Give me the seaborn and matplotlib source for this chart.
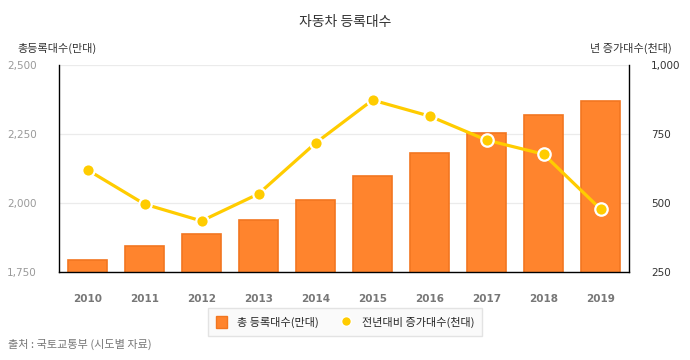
import numpy as np
import pandas as pd
import matplotlib
matplotlib.use("Agg")
import matplotlib.pyplot as plt
import seaborn as sns
from matplotlib.lines import Line2D
from matplotlib.patches import Patch

# data
years = ["2010", "2011", "2012", "2013", "2014", "2015", "2016", "2017", "2018", "2019"]
total_reg = [1794, 1844, 1887, 1940, 2012, 2099, 2180, 2253, 2320, 2368]   # 만대
yearly_inc = [620, 496, 435, 533, 717, 873, 815, 728, 677, 478]           # 천대
left_ticks = [1750, 2000, 2250, 2500]
right_ticks = [250, 500, 750, 1000]

sns.set_theme(style="white")
plt.rcParams["font.family"] = ["Noto Sans CJK KR", "DejaVu Sans"]

bar_col = "#FF842D"
bar_edge = "#F27620"
line_col = "#FFCC00"

df = pd.DataFrame({"year": years, "total": total_reg, "inc": yearly_inc})
df["pos"] = np.arange(len(df))

fig = plt.figure(figsize=(6.9, 3.6), dpi=100)
ax = fig.add_axes([59 / 690, 1 - 272 / 360, 570 / 690, 207 / 360])

sns.barplot(data=df, x="year", y="total", color=bar_col, edgecolor=bar_edge,
            linewidth=1.2, width=0.67, saturation=1, ax=ax, zorder=2)
ax.set_ylim(1750, 2500)
ax.set_yticks(left_ticks)
ax.set_yticklabels([f"{v:,}" for v in left_ticks], fontsize=7.5, color="#999999",
                   family="DejaVu Sans")
ax.set_xlim(-0.5, 9.5)
ax.set_xlabel("")
ax.set_ylabel("")
ax.grid(axis="y", color="#EBEBEB", linewidth=0.9, zorder=0)
ax.set_axisbelow(True)
for lab in ax.get_xticklabels():
    lab.set_fontsize(7.5)
    lab.set_fontweight("bold")
    lab.set_color("#777777")
    lab.set_family("DejaVu Sans")
ax.tick_params(axis="x", length=0, pad=16)
ax.tick_params(axis="y", length=0, pad=16)
for side in ["left", "bottom"]:
    ax.spines[side].set_color("#000000")
    ax.spines[side].set_linewidth(1.0)
ax.spines["top"].set_visible(False)
ax.spines["right"].set_visible(False)

# yearly increase on the right axis
ax2 = ax.twinx()
sns.lineplot(data=df, x="pos", y="inc", color=line_col, linewidth=2.3, ax=ax2)
sns.scatterplot(data=df, x="pos", y="inc", color=line_col, s=80, edgecolor="white",
                linewidth=1.6, ax=ax2, zorder=5)
ax2.set_ylim(250, 1000)
ax2.set_yticks(right_ticks)
ax2.set_yticklabels([f"{v:,}" for v in right_ticks], fontsize=7.5, color="#333333",
                    family="DejaVu Sans")
ax2.tick_params(axis="y", length=0, pad=16)
ax2.set_xlabel("")
ax2.set_ylabel("")
ax2.set_xlim(-0.5, 9.5)
ax2.grid(False)
ax2.spines["right"].set_color("#000000")
ax2.spines["right"].set_linewidth(1.0)
for side in ["top", "left", "bottom"]:
    ax2.spines[side].set_visible(False)

fig.text(0.5, 1 - 22 / 360, "자동차 등록대수", ha="center", va="center",
         fontsize=10, color="#333333")
fig.text(17 / 690, 1 - 48 / 360, "총등록대수(만대)", ha="left", va="center",
         fontsize=8, color="#333333")
fig.text(672 / 690, 1 - 48 / 360, "년 증가대수(천대)", ha="right", va="center",
         fontsize=8, color="#333333")
fig.text(8 / 690, 1 - 344 / 360, "출처 : 국토교통부 (시도별 자료)", ha="left", va="center",
         fontsize=8, color="#777777")

handles = [
    Patch(facecolor=bar_col, edgecolor=bar_edge, label="총 등록대수(만대)"),
    Line2D([], [], marker="o", linestyle="none", markersize=7, color=line_col,
           markeredgecolor="white", label="전년대비 증가대수(천대)"),
]
leg = fig.legend(handles=handles, loc="center", bbox_to_anchor=(0.5, 1 - 322 / 360),
                 ncol=2, fontsize=8, frameon=True, fancybox=False, handlelength=1.0,
                 handleheight=1.2, columnspacing=2.0, handletextpad=0.9, borderpad=0.7,
                 borderaxespad=0)
leg.get_frame().set_edgecolor("#DDDDDD")
leg.get_frame().set_facecolor("#F9F9F9")
leg.get_frame().set_linewidth(1.0)

fig.savefig("out.png", dpi=100)
